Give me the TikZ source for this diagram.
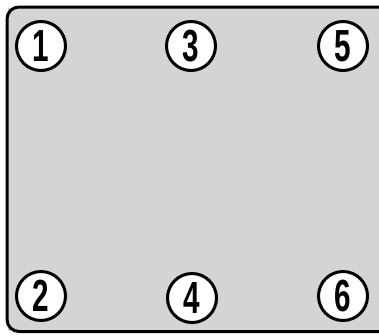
\documentclass[tikz,border=0pt]{standalone}
\usepackage{fontspec}
\setmainfont{Liberation Sans}
\begin{document}
\begin{tikzpicture}[x=1pt,y=-1pt,
  numcircle/.style={circle,draw=black,line width=3pt,fill=white,minimum size=49pt,inner sep=0pt,
    font=\fontsize{45}{45}\selectfont\bfseries},
  panelfill/.style={fill=black!17}]
\useasboundingbox (0,0) rectangle (379,335);
\fill[white] (0,0) rectangle (379,335);
\fill[panelfill] (8,8) -- (390,8) -- (390,331) -- (8,331) -- cycle;
\draw[line width=3pt,rounded corners=12pt] (390,7) -- (7,7) -- (7,331.5) -- (390,331.5);
\node[numcircle] (n1) at (41,46) {\scalebox{0.66}[1]{1}};
\node[numcircle] (n3) at (191,46) {\scalebox{0.66}[1]{3}};
\node[numcircle] (n5) at (343,46) {\scalebox{0.66}[1]{5}};
\node[numcircle] (n2) at (41,296) {\scalebox{0.66}[1]{2}};
\node[numcircle] (n4) at (192,298) {\scalebox{0.66}[1]{4}};
\node[numcircle] (n6) at (343,296) {\scalebox{0.66}[1]{6}};
\end{tikzpicture}
\end{document}
